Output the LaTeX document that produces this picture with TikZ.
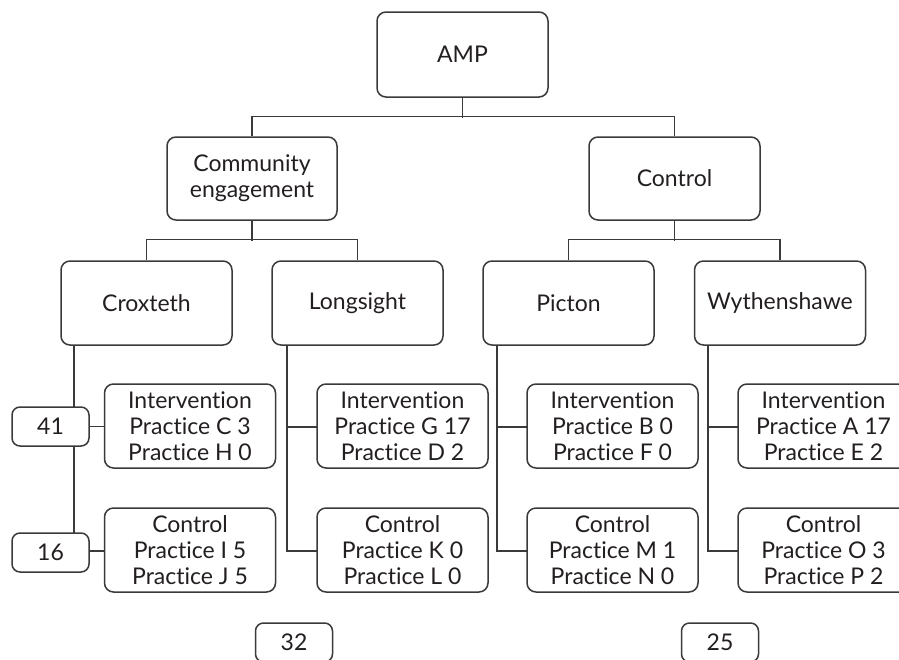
\documentclass[tikz,border=0pt]{standalone}
\usepackage{fontspec}
\setmainfont{Lato}[Ligatures=NoCommon]
\begin{document}
\begin{tikzpicture}[x=1pt,y=-1pt,
  line width=1.5pt,
  every node/.style={font=\fontsize{23}{26}\selectfont, text=txtc},
  box/.style={draw=linec, fill=white, rounded corners=9pt, inner sep=0pt,
    minimum width=171pt, minimum height=84pt, align=center},
  numbox/.style={draw=linec, fill=white, rounded corners=8pt, inner sep=0pt,
    minimum width=77pt, minimum height=39pt},
  link/.style={draw=linec, line width=1.5pt}]
\definecolor{linec}{HTML}{3A3A3A}
\definecolor{txtc}{HTML}{231F20}
\useasboundingbox (0,0) rectangle (899,659);

% spine positions
\coordinate (sCrox) at (74,0);
\coordinate (sLong) at (287,0);
\coordinate (sPict) at (497,0);
\coordinate (sWyth) at (708,0);

% nodes
\node[box, minimum height=85pt] (amp) at (462.5,54.5) {AMP};
\node[box, minimum width=170pt, minimum height=83pt] (comm) at (252,178.5) {Community\\engagement};
\node[box, minimum height=83pt] (ctrl) at (674.5,178.5) {Control};

\node[box] (crox) at (146.5,303) {Croxteth};
\node[box] (long) at (357.5,303) {Longsight};
\node[box] (pict) at (568.5,303) {Picton};
\node[box] (wyth) at (780,303) {Wythenshawe};

% tree connectors
\draw[link] (amp.south) -- ++(0,20);
\draw[link] (comm.north) -- ++(0,-20) -| (ctrl.north);
\draw[link] (comm.south) -- ++(0,20);
\draw[link] (crox.north) -- ++(0,-21) -| (long.north);
\draw[link] (ctrl.south) -- ++(0,20);
\draw[link] (pict.north) -- ++(0,-21) -| (wyth.north);

% spines and branches
\draw[link] (crox.south -| sCrox) -- (sCrox |- 0,533);
\draw[link] (long.south -| sLong) -- (sLong |- 0,551) -- (317,551);
\draw[link] (sLong |- 0,427) -- (317,427);
\draw[link] (pict.south -| sPict) -- (sPict |- 0,551) -- (527,551);
\draw[link] (sPict |- 0,427) -- (527,427);
\draw[link] (wyth.south -| sWyth) -- (sWyth |- 0,551) -- (738,551);
\draw[link] (sWyth |- 0,427) -- (738,427);

\node[box] (intC) at (190,426) {Intervention\\Practice C 3\\Practice H 0};
\node[box] (intG) at (402.5,426) {Intervention\\Practice G 17\\Practice D 2};
\node[box] (intB) at (612.5,426) {Intervention\\Practice B 0\\Practice F 0};
\node[box] (intA) at (823.5,426) {Intervention\\Practice A 17\\Practice E 2};

\node[box] (ctlIJ) at (190,550) {Control\\Practice I 5\\Practice J 5};
\node[box] (ctlKL) at (402.5,550) {Control\\Practice K 0\\Practice L 0};
\node[box] (ctlMN) at (612.5,550) {Control\\Practice M 1\\Practice N 0};
\node[box] (ctlOP) at (823.5,550) {Control\\Practice O 3\\Practice P 2};

\node[numbox] (n41) at (50.5,426.5) {41};
\node[numbox] (n16) at (50.5,552.5) {16};
\draw[link] (n41.east) -- (intC.west |- n41.east);
\draw[link] (n16.east |- 0,551) -- (ctlIJ.west |- 0,551);

\node[numbox] (n32) at (294,642.5) {32};
\node[numbox] (n25) at (720,642.5) {25};
\end{tikzpicture}
\end{document}
